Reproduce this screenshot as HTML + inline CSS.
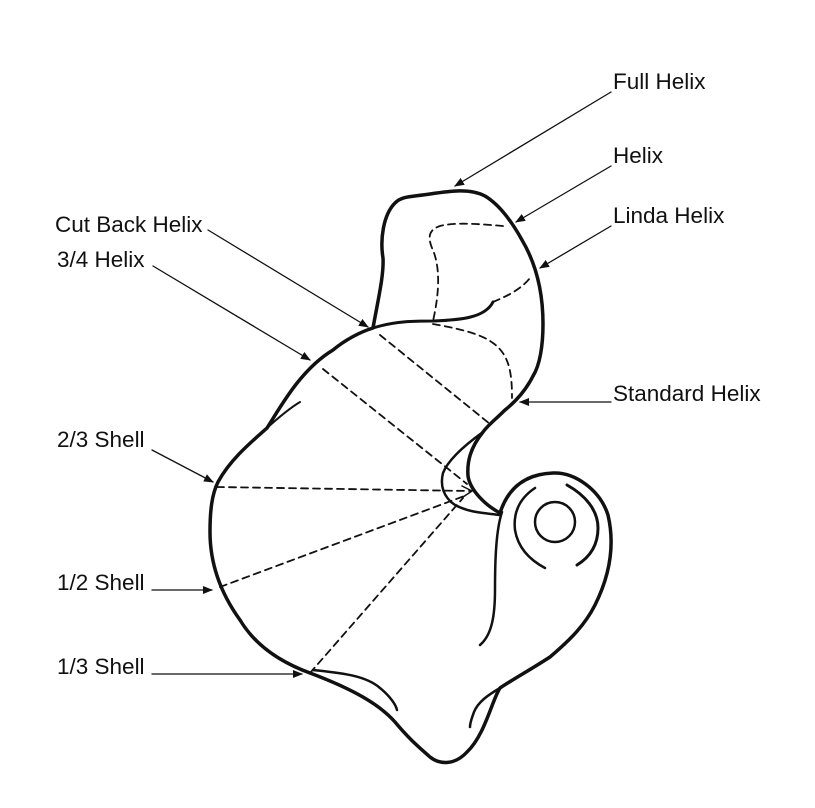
<!DOCTYPE html>
<html><head><meta charset="utf-8"><style>
html,body{margin:0;padding:0;background:#fff;}
svg{display:block;}
text{font-family:"Liberation Sans",sans-serif;font-size:22.5px;fill:#111;}
</style></head><body>
<svg width="815" height="808" viewBox="0 0 815 808" xmlns="http://www.w3.org/2000/svg">
<defs>
<marker id="a" markerWidth="10" markerHeight="8" refX="9" refY="4" orient="auto" markerUnits="userSpaceOnUse">
<path d="M0,0 L10,4 L0,8 z" fill="#111"/></marker>
</defs>
<g fill="none" stroke="#111" stroke-linecap="round" stroke-linejoin="round">
<path stroke-width="3.5" d="M373,328 C378,300 384,275 383,258 C380,240 383,215 395,203 C402,196 410,197 430,194 C450,191 470,188 485,196 C500,205 512,222 522,240 C535,262 543,290 543,324 C543,345 540,365 533,376 C525,392 515,402 505,410 C495,420 488,425 483,432 C470,448 467,462 468,476 C470,490 485,505 500,513 C508,488 525,474 553,473 C575,472 600,490 608,515 C615,545 610,575 595,605 C585,625 570,640 550,657 C530,670 515,678 500,688 C492,700 485,735 467,752 C455,765 440,765 430,757 C420,748 410,740 395,722 C380,705 355,690 310,673 C280,662 255,645 240,620 C222,595 210,565 210,532 C210,510 212,494 218,482 C230,460 250,443 267,428 C280,408 300,370 333,350 C345,340 360,332 373,328 Z"/>
<path stroke-width="3" d="M373,328 C395,321 415,321 433,321 C460,320 485,318 493,302"/>
<path stroke-width="2" d="M267,428 C278,418 290,408 300,402"/>
<path stroke-width="2.5" d="M483,432 C465,445 448,460 443,473 C440,485 443,497 455,505 C470,513 485,513 500,515"/>
<path stroke-width="2.5" d="M502,512 C496,530 495,560 495,590 C495,615 492,635 480,645"/>
<path stroke-width="2.5" d="M313,670 C340,673 365,675 380,688 C390,696 396,705 397,710"/>
<path stroke-width="2.5" d="M500,688 C488,695 478,702 474,712 C471,720 470,725 470,727"/>
<circle cx="555" cy="522" r="20" stroke-width="2.5"/>
<path stroke-width="2.5" d="M535,488 C520,498 513,512 515,530 C518,548 530,560 545,568"/>
<path stroke-width="3" d="M567,485 C585,495 598,510 598,528 C598,545 590,557 577,565"/>
<g stroke-width="1.8" stroke-dasharray="7,5">
<path d="M503,226 C480,224 455,222 440,226 C428,230 428,238 432,248 C440,265 440,290 433,321"/>
<path d="M493,302 C510,295 522,288 530,278"/>
<path d="M433,324 C455,328 480,333 493,343 C510,355 512,375 512,398"/>
<path d="M380,335 L490,424"/>
<path d="M323,369 L467,484"/>
<path d="M217,487 L470,491"/>
<path d="M220,587 L467,495"/>
<path d="M310,673 L463,498"/>
</g>
<path stroke-width="1.5" d="M462,486 L472,491 L463,497"/>
<g stroke-width="1.3" marker-end="url(#a)">
<path d="M611,92 L455,186"/>
<path d="M611,166 L516,222"/>
<path d="M611,226 L540,268"/>
<path d="M611,402 L520,402"/>
<path d="M208,230 L368,327"/>
<path d="M153,266 L310,360"/>
<path d="M152,450 L213,482"/>
<path d="M152,590 L212,590"/>
<path d="M152,674 L302,674"/>
</g>
</g>
<text x="613" y="89">Full Helix</text>
<text x="613" y="163">Helix</text>
<text x="613" y="223">Linda Helix</text>
<text x="613" y="401">Standard Helix</text>
<text x="55" y="232">Cut Back Helix</text>
<text x="57" y="267">3/4 Helix</text>
<text x="57" y="447">2/3 Shell</text>
<text x="57" y="590">1/2 Shell</text>
<text x="57" y="674">1/3 Shell</text>
</svg>
</body></html>
